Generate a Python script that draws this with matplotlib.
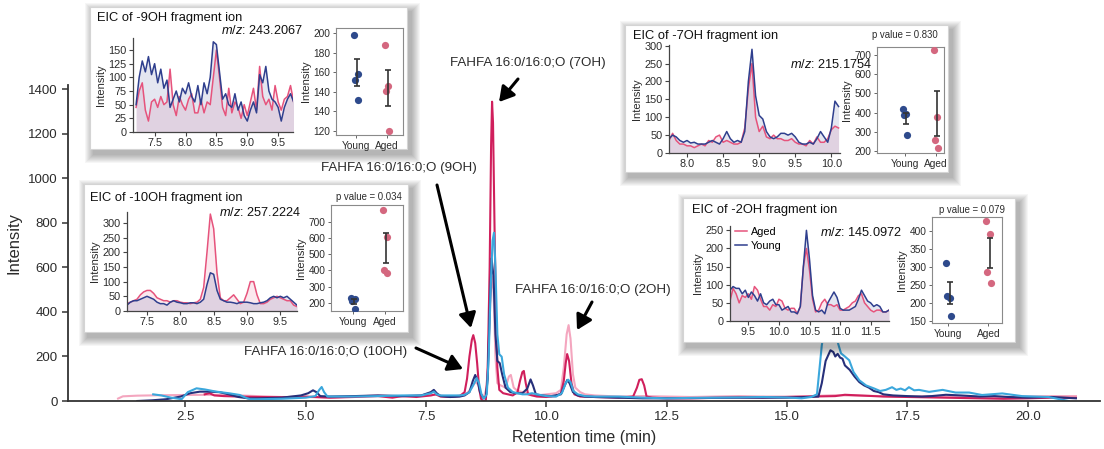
import numpy as np
import matplotlib
matplotlib.use("Agg")
import matplotlib.pyplot as plt
from matplotlib.patches import Rectangle, FancyArrowPatch

plt.rcParams['font.family'] = ['Liberation Sans', 'DejaVu Sans']
plt.rcParams['mathtext.fontset'] = 'custom'
plt.rcParams['mathtext.rm'] = 'Liberation Sans'
plt.rcParams['mathtext.it'] = 'Liberation Sans:italic'

W, H = 1104, 449

# ---------------- main chromatogram: (retention time [min], intensity) ----------------
AGED_1 = [(2.9, 30), (3.0, 35), (3.1, 25), (3.3, 22), (3.6, 20), (4.0, 18), (4.5, 17), (5.0, 20),
          (5.2, 18), (5.5, 15), (6.0, 18), (6.5, 22), (6.8, 15), (7.0, 22), (7.3, 18), (7.6, 25),
          (7.7, 30), (7.8, 20), (8.0, 18), (8.2, 22), (8.3, 40), (8.35, 100), (8.4, 200), (8.45, 275),
          (8.48, 296), (8.52, 260), (8.56, 170), (8.6, 60), (8.64, 10), (8.68, 0), (8.74, 0),
          (8.78, 150), (8.82, 600), (8.85, 1150), (8.87, 1345), (8.89, 1250), (8.92, 800),
          (8.95, 400), (8.98, 150), (9.02, 50), (9.1, 35), (9.2, 30), (9.3, 25), (9.4, 40),
          (9.45, 90), (9.5, 130), (9.53, 135), (9.57, 80), (9.62, 30), (9.7, 25), (9.8, 20),
          (10.0, 18), (10.2, 22), (10.3, 35), (10.36, 90), (10.4, 170), (10.43, 211), (10.47, 180),
          (10.52, 80), (10.58, 30), (10.7, 20), (11.0, 18), (11.5, 15), (11.8, 20), (11.88, 60),
          (11.93, 95), (11.98, 98), (12.03, 70), (12.08, 20), (12.2, 15), (12.5, 12), (13.0, 12),
          (13.5, 14), (14.0, 15), (14.5, 15), (15.0, 18), (15.5, 20), (16.0, 22), (16.2, 28),
          (16.5, 25), (16.8, 22), (17.0, 20), (17.5, 18), (18.0, 16), (18.5, 14), (19.0, 12),
          (19.5, 10), (20.0, 12), (20.5, 15), (21.0, 14)]
AGED_2 = [(1.1, 11), (1.2, 21), (1.5, 24), (2.0, 26), (2.5, 27), (3.0, 28), (3.5, 26), (4.0, 22),
          (4.5, 18), (5.0, 18), (5.5, 15), (6.0, 20), (6.5, 25), (7.0, 20), (7.5, 25), (7.7, 28),
          (8.0, 18), (8.2, 25), (8.35, 35), (8.45, 60), (8.52, 85), (8.58, 75), (8.63, 30),
          (8.7, 20), (8.76, 60), (8.8, 250), (8.84, 480), (8.87, 560), (8.9, 500), (8.94, 200),
          (8.98, 80), (9.05, 70), (9.15, 60), (9.22, 110), (9.26, 117), (9.32, 60), (9.4, 45),
          (9.5, 40), (9.6, 35), (9.7, 30), (9.8, 25), (10.0, 30), (10.2, 35), (10.3, 50),
          (10.36, 150), (10.42, 300), (10.46, 341), (10.5, 280), (10.55, 120), (10.6, 60),
          (10.65, 50), (10.7, 40), (10.8, 30), (11.0, 25), (11.5, 20), (12.0, 22), (12.5, 20),
          (13.0, 18), (13.5, 20), (14.0, 22), (14.5, 20), (15.0, 20), (15.5, 22), (16.0, 26),
          (16.5, 24), (17.0, 22), (17.5, 20), (18.0, 22), (18.5, 20), (19.0, 18), (19.5, 18),
          (20.0, 20), (20.5, 22), (21.0, 22)]
YOUNG_1 = [(1.5, 0), (1.8, 3), (2.1, 8), (2.4, 20), (2.6, 35), (2.8, 42), (3.0, 42), (3.2, 40),
           (3.4, 30), (3.6, 18), (3.8, 12), (4.0, 12), (4.5, 15), (4.9, 25), (5.05, 35), (5.15, 48),
           (5.22, 40), (5.3, 22), (5.5, 20), (6.0, 22), (6.5, 25), (7.0, 22), (7.4, 25), (7.6, 40),
           (7.66, 50), (7.72, 35), (7.8, 22), (8.0, 18), (8.2, 20), (8.3, 25), (8.4, 40), (8.47, 90),
           (8.52, 117), (8.57, 90), (8.62, 40), (8.68, 15), (8.74, 20), (8.78, 100), (8.82, 400),
           (8.86, 641), (8.9, 560), (8.94, 300), (8.98, 180), (9.03, 170), (9.08, 120), (9.15, 60),
           (9.25, 40), (9.35, 35), (9.5, 35), (9.6, 55), (9.67, 97), (9.72, 70), (9.78, 30),
           (9.9, 25), (10.1, 22), (10.3, 30), (10.38, 70), (10.43, 94), (10.48, 80), (10.55, 40),
           (10.65, 25), (10.8, 20), (11.0, 18), (11.5, 15), (12.0, 12), (12.5, 12), (13.0, 13),
           (13.5, 14), (14.0, 15), (14.5, 15), (15.0, 15), (15.4, 18), (15.65, 20), (15.72, 80),
           (15.8, 180), (15.9, 228), (15.96, 220), (16.0, 200), (16.05, 212), (16.1, 195),
           (16.15, 190), (16.2, 160), (16.3, 140), (16.4, 110), (16.5, 85), (16.6, 70), (16.7, 60),
           (16.8, 45), (16.9, 40), (17.0, 30), (17.2, 25), (17.5, 22), (17.8, 20), (18.0, 22),
           (18.3, 28), (18.6, 25), (19.0, 20), (19.3, 22), (19.6, 18), (20.0, 15), (20.5, 18),
           (21.0, 12)]
YOUNG_2 = [(1.83, 30), (2.0, 25), (2.2, 15), (2.42, 8), (2.55, 40), (2.73, 57), (2.9, 52),
           (3.14, 42), (3.4, 35), (3.63, 27), (3.75, 15), (3.84, 8), (4.0, 8), (4.5, 10), (5.0, 15),
           (5.2, 22), (5.28, 50), (5.33, 63), (5.38, 40), (5.45, 20), (6.0, 20), (6.5, 22),
           (7.0, 25), (7.4, 25), (7.6, 35), (7.66, 42), (7.72, 30), (7.8, 25), (8.0, 25), (8.2, 25),
           (8.3, 28), (8.4, 40), (8.5, 80), (8.55, 103), (8.6, 80), (8.65, 30), (8.7, 10),
           (8.76, 30), (8.8, 200), (8.84, 500), (8.88, 720), (8.91, 756), (8.94, 600), (8.98, 300),
           (9.02, 210), (9.07, 199), (9.12, 120), (9.2, 60), (9.3, 40), (9.4, 35), (9.5, 30),
           (9.6, 30), (9.7, 35), (9.8, 30), (10.0, 22), (10.2, 20), (10.32, 35), (10.4, 80),
           (10.45, 96), (10.5, 85), (10.56, 45), (10.65, 30), (10.8, 22), (11.0, 20), (11.5, 20),
           (12.0, 15), (12.5, 12), (13.0, 14), (13.5, 15), (14.0, 16), (14.5, 18), (15.0, 16),
           (15.3, 12), (15.5, 18), (15.62, 30), (15.72, 250), (15.85, 420), (15.95, 380),
           (16.04, 272), (16.12, 214), (16.2, 200), (16.29, 183), (16.38, 130), (16.5, 93),
           (16.64, 70), (16.81, 56), (16.93, 45), (17.05, 50), (17.18, 62), (17.27, 50),
           (17.36, 56), (17.45, 48), (17.53, 62), (17.64, 48), (17.74, 50), (17.95, 41),
           (18.23, 50), (18.5, 38), (18.78, 38), (19.05, 27), (19.47, 34), (19.88, 22),
           (20.43, 18), (20.85, 0)]
MAIN_XTICKS = [2.5, 5.0, 7.5, 10.0, 12.5, 15.0, 17.5, 20.0]
MAIN_YTICKS = [0, 200, 400, 600, 800, 1000, 1200, 1400]

# ---------------- inset EIC traces ----------------
T_9OH = [7.20, 7.25, 7.30, 7.35, 7.40, 7.45, 7.50, 7.55, 7.60, 7.65,
         7.70, 7.75, 7.80, 7.85, 7.90, 7.95, 8.00, 8.05, 8.10, 8.15,
         8.20, 8.25, 8.30, 8.35, 8.40, 8.45, 8.50, 8.55, 8.60, 8.65,
         8.70, 8.75, 8.80, 8.85, 8.90, 8.95, 9.00, 9.05, 9.10, 9.15,
         9.20, 9.25, 9.30, 9.35, 9.40, 9.45, 9.50, 9.55, 9.60, 9.65,
         9.70, 9.75]
YOUNG_9OH = [50, 100, 130, 110, 138, 105, 125, 90, 115, 80,
             95, 45, 60, 75, 55, 80, 70, 90, 65, 55,
             85, 50, 90, 70, 100, 165, 160, 110, 60, 70,
             50, 45, 70, 40, 55, 30, 20, 40, 55, 35,
             105, 90, 120, 75, 60, 55, 45, 20, 45, 60,
             70, 55]
AGED_9OH = [45, 75, 90, 40, 20, 55, 60, 45, 65, 50,
            55, 115, 50, 30, 65, 50, 40, 60, 70, 35,
            35, 60, 35, 55, 50, 100, 150, 100, 45, 30,
            80, 35, 55, 45, 25, 50, 30, 55, 80, 40,
            120, 65, 50, 60, 40, 85, 55, 40, 60, 65,
            85, 55]

T_10OH = T_9OH
AGED_10OH = [25, 30, 35, 40, 55, 65, 70, 70, 60, 45,
             40, 35, 35, 30, 35, 35, 30, 28, 28, 25,
             28, 30, 40, 80, 200, 330, 280, 130, 45, 35,
             35, 45, 55, 40, 25, 30, 60, 100, 100, 55,
             25, 25, 30, 40, 45, 50, 45, 40, 35, 35,
             20, 15]
YOUNG_10OH = [20, 30, 35, 35, 40, 45, 50, 45, 40, 30,
              25, 25, 20, 30, 35, 30, 28, 25, 25, 28,
              28, 25, 30, 40, 90, 130, 125, 70, 40, 35,
              30, 30, 28, 25, 30, 30, 30, 28, 25, 25,
              28, 30, 35, 45, 50, 45, 50, 45, 50, 40,
              30, 20]

T_7OH = [7.75, 7.80, 7.85, 7.90, 7.95, 8.00, 8.05, 8.10, 8.15, 8.20,
         8.25, 8.30, 8.35, 8.40, 8.45, 8.50, 8.55, 8.60, 8.65, 8.70,
         8.75, 8.80, 8.85, 8.90, 8.95, 9.00, 9.05, 9.10, 9.15, 9.20,
         9.25, 9.30, 9.35, 9.40, 9.45, 9.50, 9.55, 9.60, 9.65, 9.70,
         9.75, 9.80, 9.85, 9.90, 9.95, 10.00, 10.05, 10.10]
YOUNG_7OH = [40, 50, 45, 35, 30, 35, 28, 30, 25, 25,
             25, 30, 35, 30, 25, 40, 60, 40, 30, 35,
             30, 60, 200, 290, 160, 105, 95, 60, 45, 40,
             45, 55, 55, 50, 55, 45, 30, 25, 25, 30,
             25, 40, 60, 45, 30, 70, 145, 130]
AGED_7OH = [35, 55, 35, 25, 25, 20, 20, 15, 20, 25,
            20, 35, 30, 45, 50, 30, 35, 30, 25, 25,
            30, 70, 180, 250, 100, 60, 75, 45, 40, 50,
            40, 40, 35, 35, 40, 30, 25, 25, 20, 35,
            25, 45, 30, 30, 40, 65, 75, 70]

T_2OH = [9.20, 9.25, 9.30, 9.35, 9.40, 9.45, 9.50, 9.55, 9.60, 9.65,
         9.70, 9.75, 9.80, 9.85, 9.90, 9.95, 10.00, 10.05, 10.10, 10.15,
         10.20, 10.25, 10.30, 10.35, 10.40, 10.45, 10.50, 10.55, 10.60, 10.65,
         10.70, 10.75, 10.80, 10.85, 10.90, 10.95, 11.00, 11.05, 11.10, 11.15,
         11.20, 11.25, 11.30, 11.35, 11.40, 11.45, 11.50, 11.55, 11.60, 11.65,
         11.70, 11.75, 11.80]
YOUNG_2OH = [85, 95, 90, 90, 75, 85, 65, 80, 70, 55,
             75, 50, 45, 55, 60, 45, 45, 30, 35, 40,
             25, 25, 20, 40, 150, 250, 170, 70, 30, 25,
             30, 20, 50, 65, 80, 65, 35, 30, 30, 30,
             35, 40, 60, 85, 70, 55, 50, 40, 45, 40,
             25, 25, 30]
AGED_2OH = [55, 90, 75, 50, 70, 65, 75, 60, 95, 85,
            60, 40, 40, 30, 45, 40, 60, 55, 35, 30,
            35, 35, 20, 40, 150, 200, 140, 60, 25, 30,
            50, 60, 45, 45, 40, 45, 30, 30, 35, 40,
            50, 55, 70, 75, 50, 40, 30, 25, 30, 30,
            25, 25, 30]

# ---------------- per-sample integrated intensities ----------------
GROUPS = ["Young", "Aged"]
PTS_9OH = ([198, 158, 152, 132], [188, 146, 141, 100])
PTS_10OH = ([228, 222, 214, 165], [772, 603, 400, 386])
PTS_7OH = ([417, 392, 385, 282], [727, 377, 257, 215])
PTS_2OH = ([310, 213, 218, 163], [426, 391, 285, 254])
P_10OH, P_7OH, P_2OH = "0.034", "0.830", "0.079"

# ---------------- styles ----------------
C_CRIMSON = '#D01F5C'
C_PINK = '#F4A6BF'
C_NAVY = '#27307A'
C_LBLUE = '#3BA7DC'
C_YOUNG = '#2F3F8E'
C_AGED = '#E6537C'
C_PT_Y = '#2E4A8C'
C_PT_A = '#D4677F'
TXT = '#2b2b2b'
JIT = [-0.06, 0.05, -0.03, 0.07]

fig = plt.figure(figsize=(W / 100, H / 100), dpi=100)
fig.patch.set_facecolor('white')


def px(x0, y0, x1, y1):
    return [x0 / W, 1 - y1 / H, (x1 - x0) / W, (y1 - y0) / H]


def fp(x, y):
    return (x / W, 1 - y / H)


# ---------------- main axes ----------------
ax = fig.add_axes(px(68, 85, 1100, 401))
for series, col in [(AGED_2, C_PINK), (AGED_1, C_CRIMSON), (YOUNG_1, C_NAVY), (YOUNG_2, C_LBLUE)]:
    t, v = zip(*series)
    ax.plot(t, v, color=col, lw=1.5, solid_joinstyle='round')
ax.set_xlim(0.06, 21.5)
ax.set_ylim(0, 1420)
ax.set_xticks(MAIN_XTICKS)
ax.set_xticklabels([f"{x:.1f}" for x in MAIN_XTICKS])
ax.set_yticks(MAIN_YTICKS)
for s in ['top', 'right']:
    ax.spines[s].set_visible(False)
for s in ['left', 'bottom']:
    ax.spines[s].set_color('#333333')
    ax.spines[s].set_linewidth(1.3)
ax.tick_params(labelsize=9.5, colors='#333333', length=4, width=1.1, labelcolor=TXT)
ax.set_xlabel("Retention time (min)", fontsize=11.5, color=TXT, labelpad=5)
ax.set_ylabel("Intensity", fontsize=12, color=TXT, labelpad=5)

# annotations (label text, text centre px, arrow tail px, arrow tip px)
ANNOTS = [("FAHFA 16:0/16:0;O (7OH)", (528, 63), (518, 79), (499, 102)),
          ("FAHFA 16:0/16:0;O (9OH)", (399, 168), (437, 185), (471, 328)),
          ("FAHFA 16:0/16:0;O (10OH)", (326, 352), (416, 348), (463, 369)),
          ("FAHFA 16:0/16:0;O (2OH)", (593, 290), (592, 302), (577, 330))]
for lab, txy, tail, tip in ANNOTS:
    fig.text(*fp(*txy), lab, ha='center', va='center', fontsize=9.6, color=TXT)
    arr = FancyArrowPatch(fp(*tail), fp(*tip), transform=fig.transFigure,
                          arrowstyle='-|>,head_length=0.55,head_width=0.32',
                          mutation_scale=16, lw=2.2, color='black',
                          shrinkA=0, shrinkB=0, zorder=2)
    fig.add_artist(arr)


def draw_box(box):
    x0, y0, x1, y1 = box
    w, h = x1 - x0, y1 - y0
    bax = fig.add_axes(px(*box), zorder=5)
    bax.set_axis_off()
    dx, dy = 4, 5
    for g in range(1, 10):
        bax.add_patch(Rectangle(((dx - g) / w, (-dy - g) / h), 1 + 2 * g / w, 1 + 2 * g / h,
                                transform=bax.transAxes, facecolor='black', alpha=0.035,
                                lw=0, clip_on=False, zorder=0))
    bax.add_patch(Rectangle((0, 0), 1, 1, transform=bax.transAxes, facecolor='white',
                            edgecolor='#d4d4d4', lw=0.8, clip_on=False, zorder=1))


def draw_inset(cfg):
    draw_box(cfg['box'])
    fig.text(*fp(*cfg['title_xy']), cfg['title'], ha='left', va='center', fontsize=9.3,
             color='#111111', zorder=10)
    fig.text(*fp(*cfg['mz_xy']), r'$\mathit{m/z}$: ' + cfg['mz'], ha='right', va='center',
             fontsize=9.2, color='#111111', zorder=10)
    # EIC
    e = fig.add_axes(px(*cfg['eic']), zorder=6)
    e.patch.set_alpha(0)
    t = cfg['t']
    e.fill_between(t, 0, cfg['aged'], color=C_AGED, alpha=0.13, lw=0)
    e.fill_between(t, 0, cfg['young'], color=C_YOUNG, alpha=0.13, lw=0)
    e.plot(t, cfg['aged'], color=C_AGED, lw=1.1, label='Aged')
    e.plot(t, cfg['young'], color=C_YOUNG, lw=1.1, label='Young')
    e.set_xlim(*cfg['xlim'])
    e.set_ylim(*cfg['ylim'])
    e.set_xticks(cfg['xticks'])
    e.set_xticklabels([f"{x:.1f}" for x in cfg['xticks']])
    e.set_yticks(cfg['yticks'])
    for s in ['top', 'right']:
        e.spines[s].set_visible(False)
    for s in ['left', 'bottom']:
        e.spines[s].set_color('#444444')
        e.spines[s].set_linewidth(0.9)
    e.tick_params(labelsize=7.8, length=3, width=0.8, pad=1.5, colors='#444444', labelcolor=TXT)
    e.set_ylabel("Intensity", fontsize=8, color=TXT, labelpad=2)
    if cfg.get('legend'):
        e.legend(loc='upper left', bbox_to_anchor=(-0.01, 1.06), frameon=False, fontsize=7.8,
                 handlelength=1.1, handletextpad=0.4, labelspacing=0.35, borderaxespad=0.2)
    # strip plot
    s_ax = fig.add_axes(px(*cfg['strip']), zorder=6)
    s_ax.set_facecolor('white')
    young, aged = cfg['pts']
    for i, (vals, col) in enumerate([(young, C_PT_Y), (aged, C_PT_A)]):
        vals = np.asarray(vals, float)
        s_ax.plot(i + np.asarray(JIT[:len(vals)]), vals, 'o', color=col, ms=5.2, mec='none', zorder=3)
        m = vals.mean()
        se = vals.std(ddof=1) / np.sqrt(len(vals))
        s_ax.errorbar(i + 0.04, m, yerr=se, fmt='none', ecolor='#333333', elinewidth=1.2,
                      capsize=2.5, capthick=1.2, zorder=4)
    s_ax.set_xlim(*cfg['sxlim'])
    s_ax.set_ylim(*cfg['sylim'])
    s_ax.set_xticks([0, 1])
    s_ax.set_xticklabels(GROUPS)
    s_ax.set_yticks(cfg['syticks'])
    if 'syticklabels' in cfg:
        s_ax.set_yticklabels(cfg['syticklabels'])
    for sp in s_ax.spines.values():
        sp.set_color('#8a8a8a')
        sp.set_linewidth(0.8)
    s_ax.tick_params(labelsize=7.3, length=2.5, width=0.7, pad=1.5, colors='#666666', labelcolor=TXT)
    s_ax.set_ylabel("Intensity", fontsize=8, color=TXT, labelpad=2)
    if cfg.get('pval'):
        fig.text(*fp(*cfg['pval_xy']), "p value = " + cfg['pval'], ha='center', va='center',
                 fontsize=6.9, color=TXT, zorder=10)


INSETS = [
    dict(box=(90, 7, 407, 149), eic=(133, 38, 293, 132), strip=(336, 28, 403, 135),
         title="EIC of -9OH fragment ion", title_xy=(97, 18), mz="243.2067", mz_xy=(303, 30),
         t=T_9OH, young=YOUNG_9OH, aged=AGED_9OH, xlim=(7.15, 9.74), ylim=(0, 172),
         xticks=[7.5, 8.0, 8.5, 9.0, 9.5], yticks=[0, 25, 50, 75, 100, 125, 150],
         pts=PTS_9OH, sxlim=(-0.65, 1.53), sylim=(96, 205),
         syticks=[100, 120, 140, 160, 180, 200],
         syticklabels=['120', '140', '140', '160', '180', '200']),
    dict(box=(84, 184, 408, 332), eic=(127, 212, 297, 311), strip=(331, 205, 403, 311),
         title="EIC of -10OH fragment ion", title_xy=(90, 198), mz="257.2224", mz_xy=(301, 213),
         t=T_10OH, young=YOUNG_10OH, aged=AGED_10OH, xlim=(7.2, 9.75), ylim=(0, 337),
         xticks=[7.5, 8.0, 8.5, 9.0, 9.5], yticks=[0, 50, 100, 150, 200, 250, 300],
         pts=PTS_10OH, sxlim=(-0.69, 1.56), sylim=(150, 803),
         syticks=[200, 300, 400, 500, 600, 700], pval=P_10OH, pval_xy=(369, 197)),
    dict(box=(625, 25, 948, 172), eic=(669, 45, 840, 153), strip=(877, 47, 944, 153),
         title="EIC of -7OH fragment ion", title_xy=(633, 36), mz="215.1754", mz_xy=(872, 65),
         t=T_7OH, young=YOUNG_7OH, aged=AGED_7OH, xlim=(7.75, 10.12), ylim=(0, 302),
         xticks=[8.0, 8.5, 9.0, 9.5, 10.0], yticks=[0, 50, 100, 150, 200, 250, 300],
         pts=PTS_7OH, sxlim=(-0.9, 1.26), sylim=(190, 740),
         syticks=[200, 300, 400, 500, 600, 700], pval=P_7OH, pval_xy=(905, 35)),
    dict(box=(683, 198, 1015, 342), eic=(730, 226, 889, 321), strip=(932, 217, 1002, 323),
         title="EIC of -2OH fragment ion", title_xy=(692, 210), mz="145.0972", mz_xy=(902, 233),
         t=T_2OH, young=YOUNG_2OH, aged=AGED_2OH, xlim=(9.2, 11.8), ylim=(0, 262),
         xticks=[9.5, 10.0, 10.5, 11.0, 11.5], yticks=[0, 50, 100, 150, 200, 250],
         pts=PTS_2OH, sxlim=(-0.41, 1.34), sylim=(144, 438),
         syticks=[150, 200, 250, 300, 350, 400], pval=P_2OH, pval_xy=(972, 210), legend=True),
]
for cfg in INSETS:
    draw_inset(cfg)

fig.savefig("out.png", dpi=100, facecolor='white')
